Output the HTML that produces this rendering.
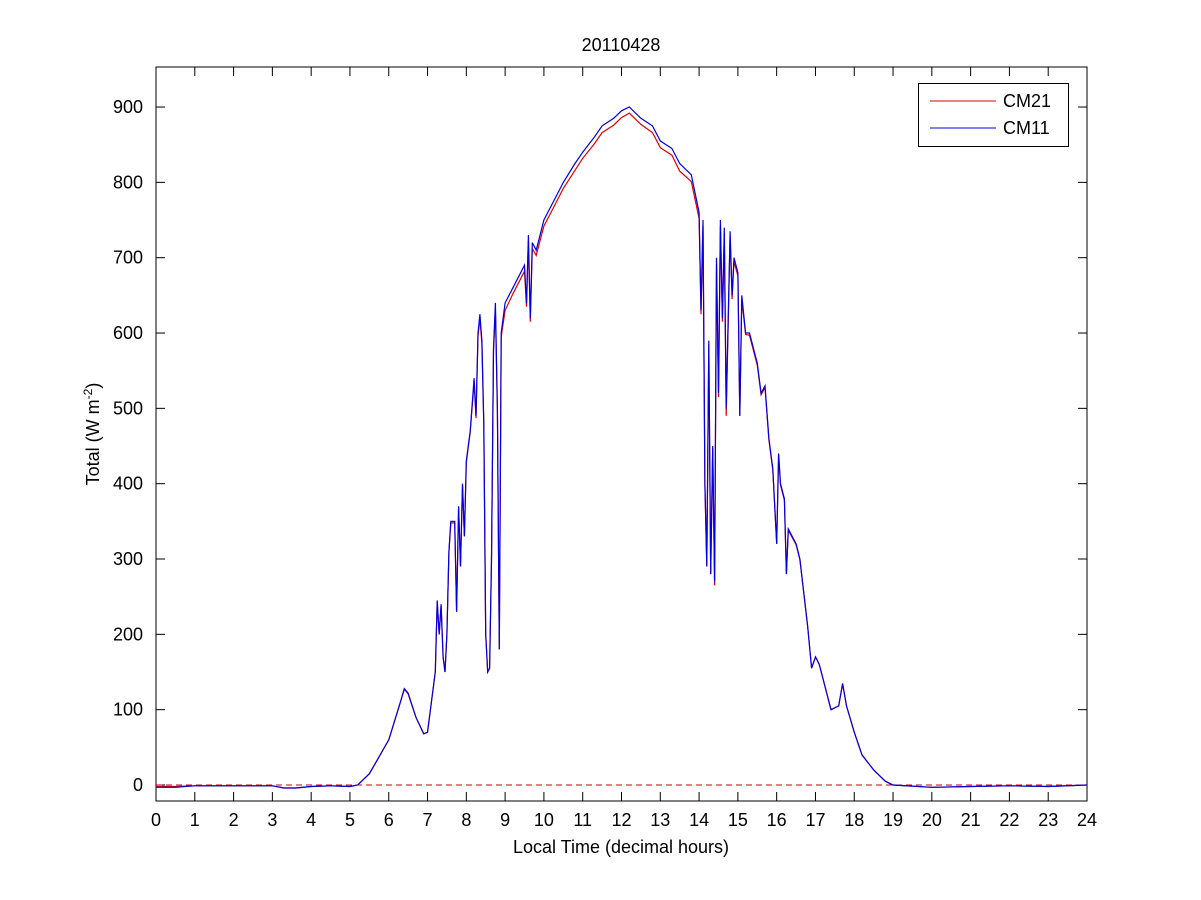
<!DOCTYPE html>
<html><head><meta charset="utf-8"><style>
html,body{margin:0;padding:0;background:#fff;width:1201px;height:900px;overflow:hidden}
svg{font-family:"Liberation Sans",Arial,sans-serif}
</style></head><body>
<svg id="chart" width="1201" height="900" xmlns="http://www.w3.org/2000/svg">
<rect x="0" y="0" width="1201" height="900" fill="#fff"/>
<g id="plot"></g>
</svg>
<script>
const times11 = [0,0.5,1,2,3,3.3,3.6,4,4.5,5,5.2,5.5,6,6.3,6.4,6.5,6.7,6.9,7.0,7.1,7.2,7.25,7.3,7.35,7.4,7.45,7.5,7.55,7.6,7.7,7.75,7.8,7.85,7.9,7.95,8.0,8.1,8.2,8.25,8.3,8.35,8.4,8.45,8.5,8.55,8.6,8.65,8.7,8.75,8.8,8.85,8.9,9.0,9.2,9.4,9.5,9.55,9.6,9.65,9.7,9.8,10,10.3,10.5,10.8,11,11.3,11.5,11.8,12,12.2,12.5,12.8,13,13.3,13.5,13.8,14,14.05,14.1,14.15,14.2,14.25,14.3,14.35,14.4,14.45,14.5,14.55,14.6,14.65,14.7,14.8,14.85,14.9,15.0,15.05,15.1,15.2,15.3,15.5,15.6,15.7,15.8,15.9,16.0,16.05,16.1,16.2,16.25,16.3,16.5,16.6,16.8,16.9,17.0,17.1,17.2,17.4,17.6,17.7,17.8,18.0,18.2,18.5,18.8,19.0,20,21,22,23,24];
const values11 = [-3,-3,-1,-1,-1,-4,-4,-2,-1,-2,0,15,60,110,128,122,90,68,70,110,150,245,200,240,170,150,200,310,350,350,230,370,290,400,330,430,470,540,490,600,625,590,480,200,150,155,300,580,640,500,180,600,640,660,680,690,640,730,620,720,710,750,780,800,825,840,860,875,885,895,900,885,875,855,845,825,810,760,630,750,400,290,590,280,450,270,700,520,750,620,740,500,735,650,700,680,490,650,600,600,560,520,530,460,420,320,440,400,380,280,340,320,300,210,155,170,160,140,100,105,135,105,70,40,20,5,0,-3,-2,-1,-2,0];
const times21 = [0,0.5,1,2,3,3.3,3.6,4,4.5,5,5.2,5.5,6,6.3,6.4,6.5,6.7,6.9,7.0,7.1,7.2,7.25,7.3,7.35,7.4,7.45,7.5,7.55,7.6,7.7,7.75,7.8,7.85,7.9,7.95,8.0,8.1,8.2,8.25,8.3,8.35,8.4,8.45,8.5,8.55,8.6,8.65,8.7,8.75,8.8,8.85,8.9,9.0,9.2,9.4,9.5,9.55,9.6,9.65,9.7,9.8,10,10.3,10.5,10.8,11,11.3,11.5,11.8,12,12.2,12.5,12.8,13,13.3,13.5,13.8,14,14.05,14.1,14.15,14.2,14.25,14.3,14.35,14.4,14.45,14.5,14.55,14.6,14.65,14.7,14.8,14.85,14.9,15.0,15.05,15.1,15.2,15.3,15.5,15.6,15.7,15.8,15.9,16.0,16.05,16.1,16.2,16.25,16.3,16.5,16.6,16.8,16.9,17.0,17.1,17.2,17.4,17.6,17.7,17.8,18.0,18.2,18.5,18.8,19.0,20,21,22,23,24];
const values21 = [-2,-2,-1,-1,-1,-4,-4,-2,-1,-2,0,15,60,110,127,121,90,68,70,110,150,243,200,238,170,150,200,308,348,348,230,368,290,398,330,428,468,535,487,595,620,585,478,200,150,155,298,575,632,495,180,595,630,652,672,682,635,722,615,712,703,742,772,792,816,832,851,866,876,886,892,877,866,846,836,815,801,752,625,742,398,290,585,280,447,265,692,515,742,615,732,490,728,645,695,676,490,645,598,597,557,518,528,458,418,320,438,398,378,280,338,319,299,210,155,170,160,140,100,105,134,105,70,40,20,5,0,-3,-2,-1,-2,0];
const xTicks = [0,1,2,3,4,5,6,7,8,9,10,11,12,13,14,15,16,17,18,19,20,21,22,23,24];
const yTicks = [0,100,200,300,400,500,600,700,800,900];
const L=156,R=1087,T=67,B=801;
const xs=t=>L+(t/24)*(R-L);
const ys=v=>785-v*0.7533;
const NS='http://www.w3.org/2000/svg';
const g=document.getElementById('plot');
function mk(tag,attrs,parent){const e=document.createElementNS(NS,tag);for(const k in attrs)e.setAttribute(k,attrs[k]);(parent||g).appendChild(e);return e;}
const box=mk('rect',{x:L,y:T,width:R-L,height:B-T,fill:'#fff',stroke:'#000','stroke-width':1});


xTicks.forEach(t=>{const x=xs(t);
 const a=mk('line',{x1:x,x2:x,y1:B,y2:B-9,stroke:'#000'});
 
 
 mk('line',{x1:x,x2:x,y1:T,y2:T+9,stroke:'#000'});
 const tx=mk('text',{x:x,y:826,'font-size':18,'text-anchor':'middle'});tx.textContent=t;
 
 
});
yTicks.forEach(v=>{const y=ys(v);
 const a=mk('line',{x1:L,x2:L+9,y1:y,y2:y,stroke:'#000'});
 
 
 mk('line',{x1:R,x2:R-9,y1:y,y2:y,stroke:'#000'});
 const tx=mk('text',{x:L-13,y:y+6,'font-size':18,'text-anchor':'end'});tx.textContent=v;
 
 
});
const zl=mk('line',{x1:L,x2:R,y1:ys(0),y2:ys(0),stroke:'#c00','stroke-dasharray':'6,4'});


function path(ts,vs,color,name){let d='';ts.forEach((t,i)=>{d+=(i?'L':'M')+xs(t).toFixed(1)+','+ys(vs[i]).toFixed(1);});
 const p=mk('path',{d:d,fill:'none',stroke:color,'stroke-width':1.2});
 
 }
path(times21,values21,'#e00000','cm21-line');
path(times11,values11,'#0000e0','cm11-line');
const lg=mk('rect',{x:918.5,y:83.5,width:150,height:63,fill:'#fff',stroke:'#000'});


mk('line',{x1:930,x2:996,y1:101,y2:101,stroke:'#e00000'});
mk('line',{x1:930,x2:996,y1:128,y2:128,stroke:'#0000e0'});
const l1=mk('text',{x:1003,y:107,'font-size':18});l1.textContent='CM21';


const l2=mk('text',{x:1003,y:134,'font-size':18});l2.textContent='CM11';


const ti=mk('text',{x:621,y:51,'font-size':18,'text-anchor':'middle'});ti.textContent='20110428';


const xl=mk('text',{x:621,y:853,'font-size':18,'text-anchor':'middle'});xl.textContent='Local Time (decimal hours)';


const yl=mk('text',{x:0,y:0,'font-size':18,'text-anchor':'middle',transform:'translate(99,434) rotate(-90)'});
yl.innerHTML='Total (W m<tspan dy="-7" font-size="12">-2</tspan><tspan dy="7">)</tspan>';


</script>
</body></html>
